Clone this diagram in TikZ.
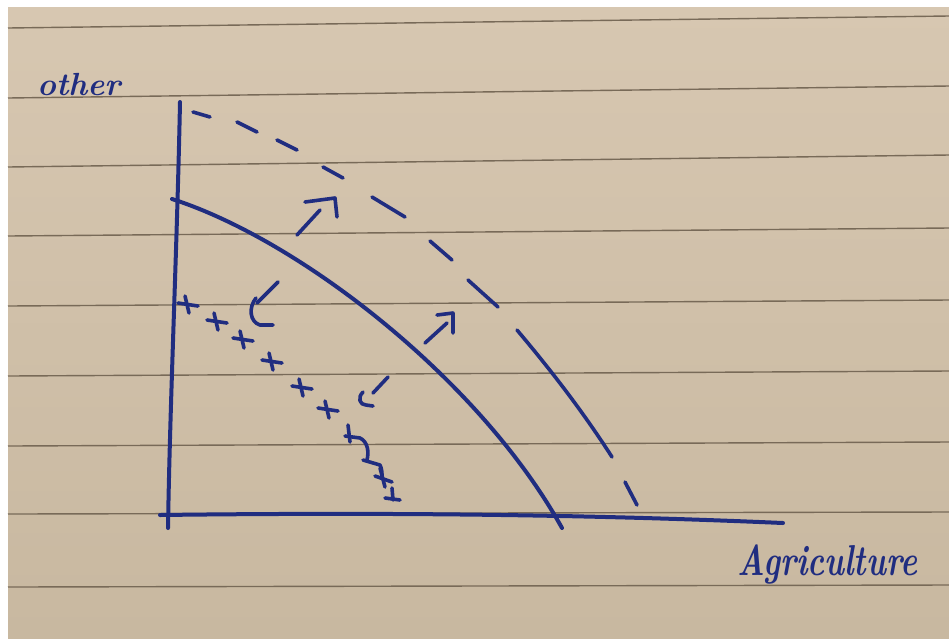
\documentclass[tikz,border=0pt]{standalone}
\usepackage{fontspec}
\definecolor{ink}{RGB}{32,45,128}
\definecolor{papertop}{RGB}{215,199,177}
\definecolor{paperbot}{RGB}{200,184,160}
\definecolor{ruled}{RGB}{120,106,88}
\tikzset{
  pen/.style={draw=ink, line width=4pt, line cap=round, line join=round},
  thinpen/.style={draw=ink, line width=3.6pt, line cap=round, line join=round},
  ruleline/.style={draw=ruled, line width=1.4pt},
  lbl/.style={text=ink, font=\fontsize{32}{36}\selectfont\bfseries\itshape, inner sep=0pt}
}
\begin{document}
\begin{tikzpicture}[x=1pt,y=-1pt]
\useasboundingbox (0,0) rectangle (949,638);
\fill[white] (0,0) rectangle (949,638);
\shade[top color=papertop, bottom color=paperbot] (8,7) rectangle (949,638);
\foreach \a/\b in {28/16, 98/86, 167/155, 236/228, 306/300, 376/371, 446/442, 514/512, 587/585}
  \draw[ruleline] (8,\a) -- (949,\b);

% axes
\draw[pen] (180,102) .. controls (177,250) and (170,400) .. (168,528);
\draw[pen] (160,515) .. controls (400,512) and (600,515) .. (783,523);

% solid frontier
\draw[pen] (172,199) .. controls (300,240) and (480,380) .. (562,528);

% dashed frontier (hand drawn dashes)
\draw[thinpen] (193,112) -- (210,117);
\draw[thinpen] (237,122) -- (257,132);
\draw[thinpen] (277,140) -- (297,150);
\draw[thinpen] (323,167) -- (343,178);
\draw[thinpen] (372,197) -- (405,217);
\draw[thinpen] (430,241) -- (452,260);
\draw[thinpen] (468,280) -- (498,307);
\draw[thinpen] (517,330) .. controls (555,375) and (585,415) .. (612,457);
\draw[thinpen] (625,482) -- (637,505);

% arrows outward
\draw[thinpen] (297,235) -- (320,210);
\draw[thinpen] (305,202) -- (335,198) -- (337,217);
\draw[thinpen] (425,343) -- (447,323);
\draw[thinpen] (437,315) -- (453,313) -- (453,333);

% arrows inward
\draw[thinpen] (278,282) -- (257,303);
\draw[thinpen] (256,298) .. controls (248,308) and (250,322) .. (260,325) -- (273,325);
\draw[thinpen] (388,377) -- (373,393);
\draw[thinpen] (363,392) .. controls (357,398) and (360,405) .. (366,405) -- (373,406);

% crosses
\foreach \cx/\cy in {188/305, 217/322, 243/340, 272/362, 302/388, 328/410}
  \draw[thinpen] ({\cx-10},{\cy-2}) -- ({\cx+10},{\cy+1}) ({\cx-3},{\cy-9}) -- ({\cx+1},{\cy+8});
% bottom squiggle of crosses
\draw[thinpen] (348,425) -- (350,442);
\draw[thinpen] (345,436) -- (360,438) .. controls (368,442) and (369,452) .. (367,460);
\draw[thinpen] (363,460) -- (380,465) .. controls (382,469) and (382,473) .. (382,477);
\draw[thinpen] (375,476) -- (392,482);
\draw[thinpen] (380,468) -- (385,487);
\draw[thinpen] (392,488) -- (393,500);
\draw[thinpen] (385,498) -- (400,500);

% labels
\node[lbl, anchor=base west] (other) at (37,95) {other};
\node[lbl, anchor=base west, yscale=1.35] (agri) at (737,575) {Agriculture};
\end{tikzpicture}
\end{document}
